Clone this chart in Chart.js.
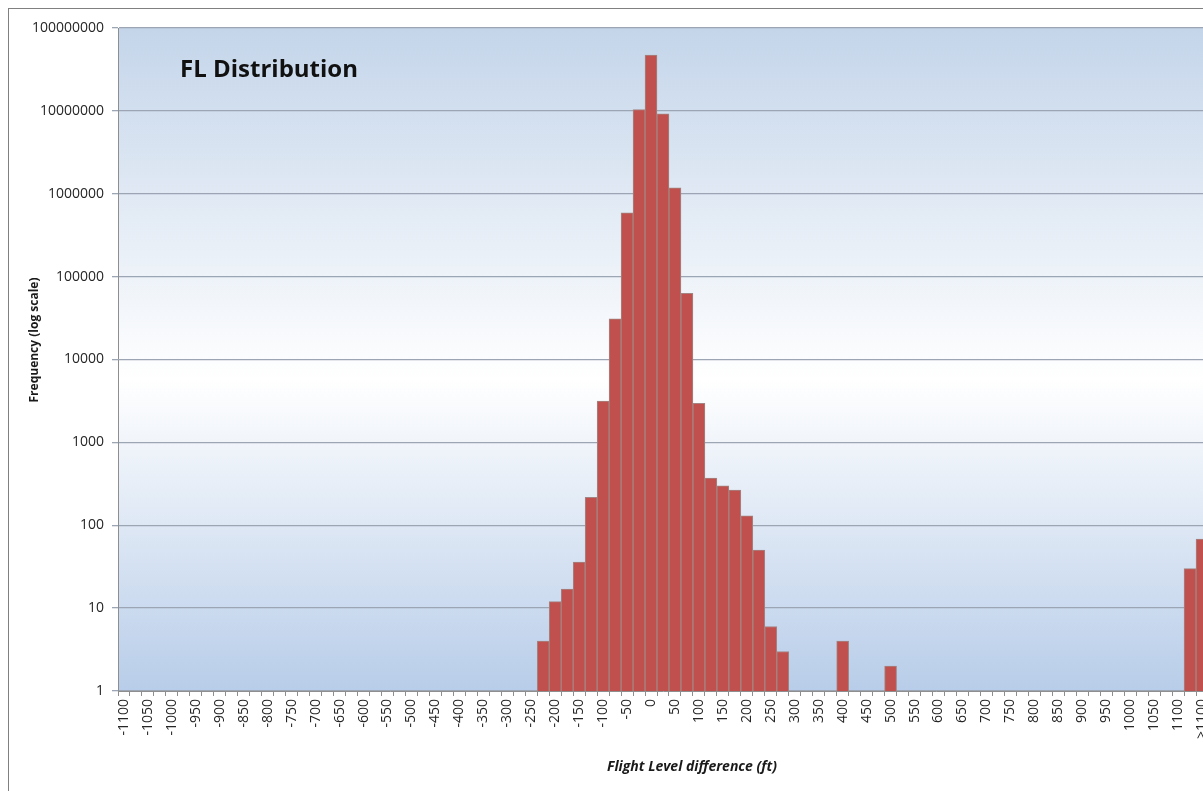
<!DOCTYPE html>
<html>
<head>
<meta charset="utf-8">
<title>FL Distribution</title>
<script src="https://cdn.jsdelivr.net/npm/chart.js@4/dist/chart.umd.min.js"></script>
<style>
  html, body { margin: 0; padding: 0; background: #ffffff; overflow: hidden; }
  #wrap { position: absolute; left: 0; top: 0; width: 1230px; height: 791px; }
</style>
</head>
<body>
<div id="wrap"><canvas id="chart" width="1230" height="791"></canvas></div>
<script>
// Flight level difference bins (ft), 25 ft wide; every other bin is labelled
const categories = [
  "-1100","-1075","-1050","-1025","-1000","-975","-950","-925","-900","-875",
  "-850","-825","-800","-775","-750","-725","-700","-675","-650","-625",
  "-600","-575","-550","-525","-500","-475","-450","-425","-400","-375",
  "-350","-325","-300","-275","-250","-225","-200","-175","-150","-125",
  "-100","-75","-50","-25","0","25","50","75","100","125",
  "150","175","200","225","250","275","300","325","350","375",
  "400","425","450","475","500","525","550","575","600","625",
  "650","675","700","725","750","775","800","825","850","875",
  "900","925","950","975","1000","1025","1050","1075","1100","1125",
  ">1100"
];

// Observed frequency per bin (null = no observations)
const frequency = [
  null,null,null,null,null,null,null,null,null,null,
  null,null,null,null,null,null,null,null,null,null,
  null,null,null,null,null,null,null,null,null,null,
  null,null,null,null,null,4,12,17,36,217,
  3160,31000,590000,10400000,47000000,9200000,1180000,63000,2960,370,
  300,266,130,50,6,3,null,null,null,null,
  4,null,null,null,2,null,null,null,null,null,
  null,null,null,null,null,null,null,null,null,null,
  null,null,null,null,null,null,null,null,null,30,
  68
];

// Decade tick values on the frequency axis
const yTicks = [1, 10, 100, 1000, 10000, 100000, 1000000, 10000000, 100000000];

const chartTitle = "FL Distribution";
const xTitle = "Flight Level difference (ft)";
const yTitle = "Frequency (log scale)";

const yLabelFont = { family: "'Open Sans', sans-serif", size: 14 };
const xLabelFont = { family: "'Open Sans', sans-serif", size: 14 };
const labelColor = "#262626";
const axisGrey = "#8e8e8e";
const gridGrey = "#9ba5b3";

// Plot-area background: blue at top and bottom, fading to white in the middle
const backgroundPlugin = {
  id: "panelBackground",
  beforeDraw(chart) {
    const { ctx, chartArea: a } = chart;
    ctx.save();
    ctx.fillStyle = "#ffffff";
    ctx.fillRect(0, 0, chart.width, chart.height);
    const g = ctx.createLinearGradient(0, a.top, 0, a.bottom);
    g.addColorStop(0, "#c4d5ea");
    g.addColorStop(0.53, "#ffffff");
    g.addColorStop(1, "#b8cde9");
    ctx.fillStyle = g;
    ctx.fillRect(a.left, a.top, a.right - a.left, a.bottom - a.top);
    // outer chart frame
    ctx.strokeStyle = "#808080";
    ctx.lineWidth = 1;
    ctx.strokeRect(8.5, 8.5, 3000, 3000);
    ctx.restore();
  }
};

// Chart title inside the plot area and the two axis titles
const titlesPlugin = {
  id: "titles",
  afterDraw(chart) {
    const { ctx, chartArea: a } = chart;
    ctx.save();
    ctx.fillStyle = "#111111";
    ctx.textBaseline = "alphabetic";
    ctx.textAlign = "left";
    ctx.font = "bold 24px 'Open Sans', sans-serif";
    ctx.fillText(chartTitle, a.left + 62, 77);

    ctx.fillStyle = "#1a1a1a";
    ctx.font = "italic bold 14px 'Open Sans', sans-serif";
    ctx.textAlign = "center";
    ctx.textBaseline = "middle";
    ctx.fillText(xTitle, 692, 767);

    ctx.translate(35, 340);
    ctx.rotate(-Math.PI / 2);
    ctx.font = "bold 12px 'Open Sans', sans-serif";
    ctx.fillText(yTitle, 0, 0);
    ctx.restore();
  }
};

new Chart(document.getElementById("chart"), {
  type: "bar",
  data: {
    labels: categories,
    datasets: [{
      data: frequency,
      backgroundColor: "#c0504d",
      borderColor: "#a58583",
      borderWidth: 1,
      barPercentage: 1,
      categoryPercentage: 1
    }]
  },
  options: {
    responsive: false,
    animation: false,
    layout: { padding: { left: 0, top: 28, right: 22, bottom: 0 } },
    plugins: {
      legend: { display: false },
      tooltip: { enabled: false },
      title: { display: false }
    },
    scales: {
      x: {
        offset: true,
        grid: {
          offset: true,
          drawOnChartArea: false,
          drawTicks: true,
          tickLength: 5,
          color: axisGrey
        },
        border: { display: true, color: axisGrey, width: 1 },
        ticks: {
          autoSkip: false,
          minRotation: 90,
          maxRotation: 90,
          padding: 3,
          color: labelColor,
          font: xLabelFont,
          callback: (value, index) => (index % 2 === 0 ? categories[index] : "")
        },
        afterFit(scale) { scale.height = 100; }
      },
      y: {
        type: "logarithmic",
        min: 1,
        max: 100000000,
        afterBuildTicks(scale) {
          scale.ticks = yTicks.map(v => ({ value: v }));
        },
        grid: {
          color: gridGrey,
          lineWidth: 1.3,
          drawTicks: true,
          tickLength: 6
        },
        border: { display: true, color: axisGrey, width: 1 },
        ticks: {
          padding: 8,
          color: labelColor,
          font: yLabelFont,
          callback: value => String(value)
        },
        afterFit(scale) { scale.width = 118; }
      }
    }
  },
  plugins: [backgroundPlugin, titlesPlugin]
});
</script>
</body>
</html>
